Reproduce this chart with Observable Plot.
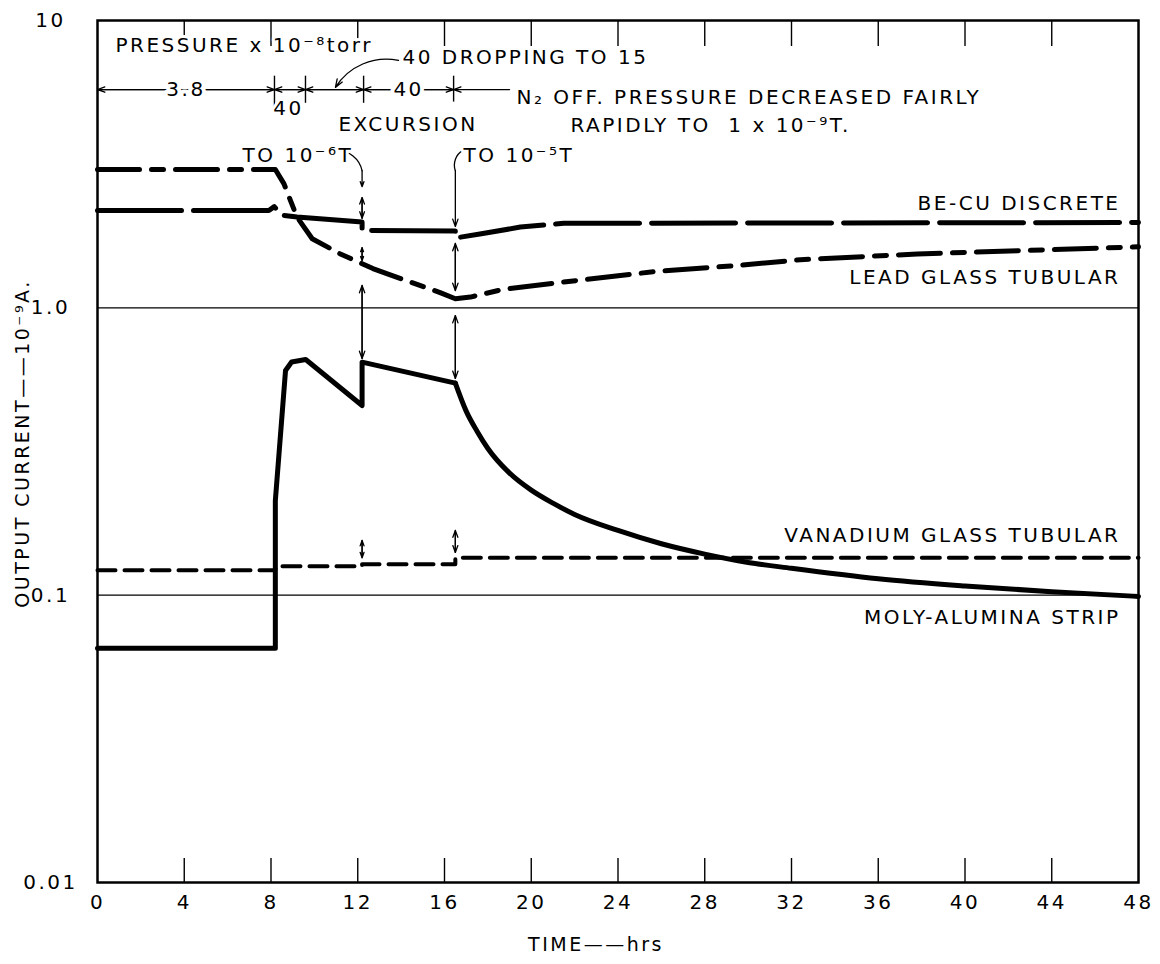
<!DOCTYPE html>
<html><head><meta charset="utf-8">
<script src="https://cdn.jsdelivr.net/npm/d3@7"></script>
<script src="https://cdn.jsdelivr.net/npm/@observablehq/plot@0.6"></script>
<style>
html,body{margin:0;padding:0;background:#fff;}
#chart svg{display:block;}
</style></head>
<body><div id="chart"></div>
<script>
// ---------- series: time (hrs) vs output current (10^-9 A) ----------
const molyTime    = [0, 8.2, 8.2, 8.67, 8.95, 9.6, 12.2, 12.2, 16.5, 17.0, 17.5, 18.0, 19.0, 20.0, 21.0, 22.0, 24.0, 26.0, 28.0, 30.0, 32.0, 36.0, 40.0, 44.0, 48];
const molyCurrent = [0.0653, 0.0653, 0.213, 0.605, 0.648, 0.661, 0.457, 0.647, 0.547, 0.437, 0.372, 0.324, 0.266, 0.232, 0.209, 0.191, 0.168, 0.151, 0.139, 0.130, 0.124, 0.114, 0.1076, 0.1028, 0.099];
const molyDecayStart = 8; // index where the smooth decay after the 2nd excursion begins

const beCuTime    = [0, 7.9, 8.15, 8.5, 9.2, 12.2, 12.2, 16.5, 16.5, 17.7, 19.5, 21.5, 48];
const beCuCurrent = [2.18, 2.18, 2.25, 2.10, 2.07, 1.99, 1.86, 1.85, 1.75, 1.81, 1.91, 1.97, 1.98];

const leadTime    = [0, 8.2, 8.6, 8.9, 9.2, 9.9, 11.2, 12.7, 13.4, 15.8, 16.5, 17.2, 18.7, 22.3, 25.8, 29.3, 32.4, 37.8, 48];
const leadCurrent = [3.03, 3.03, 2.70, 2.36, 2.07, 1.74, 1.54, 1.37, 1.31, 1.13, 1.075, 1.09, 1.16, 1.25, 1.34, 1.40, 1.47, 1.54, 1.63];

const vanTime     = [0, 8.2, 8.2, 12.2, 12.2, 16.5, 16.5, 48];
const vanCurrent  = [0.122, 0.122, 0.126, 0.126, 0.128, 0.128, 0.135, 0.135];

const seriesLabels = ["BE-CU DISCRETE", "LEAD GLASS TUBULAR", "VANADIUM GLASS TUBULAR", "MOLY-ALUMINA STRIP"];
const seriesLabelLevels = [2.31, 1.275, 0.161, 0.0836];

// ---------- axes ----------
const xTicks = [0, 4, 8, 12, 16, 20, 24, 28, 32, 36, 40, 44, 48];
const yTicks = [0.01, 0.1, 1, 10];
const yTickLabels = ["0.01", "0.1", "1.0", "10"];
const gridLevels = [1, 0.1];
const xTitle = "TIME——hrs";
const yTitle = "OUTPUT CURRENT——10⁻⁹A.";

// ---------- annotations (data units) ----------
const noteText   = ["PRESSURE x 10⁻⁸torr", "40 DROPPING TO 15", "N₂ OFF. PRESSURE DECREASED FAIRLY", "RAPIDLY TO  1 x 10⁻⁹T.", "EXCURSION", "TO 10⁻⁶T", "TO 10⁻⁵T", "40"];
const noteTime   = [0.83, 14.06, 19.32, 21.81, 11.11, 6.69, 16.88, 8.81];
const noteLevel  = [8.19, 7.43, 5.40, 4.31, 4.35, 3.39, 3.39, 4.94];
const noteAnchor = ["start", "start", "start", "start", "start", "start", "start", "middle"];

const pressureBounds = [0, 8.16, 9.59, 12.27, 16.42];
const pressureSegLabels = ["3.8", "", "", "40"];
const pressureLevel = 5.75;
const pressureTickTop = [6.4, 6.4, 6.4, 6.4];
const pressureTickBottom = [4.98, 5.15, 5.15, 5.2];
const pressureTailEnd = 19.0;

const dblTime   = [12.2, 12.2, 12.2, 12.2, 16.5, 16.5, 16.5];
const dblTop    = [2.42, 1.62, 1.196, 0.155, 1.675, 0.94, 0.168];
const dblBottom = [2.05, 1.46, 0.666, 0.135, 1.149, 0.568, 0.1408];

// single arrows / hooks
const hookX1 = [11.02, 12.2, 16.5, 16.5, 13.88];
const hookY1 = [3.53, 3.0, 3.0, 3.0, 7.26];
const hookX2 = [12.2, 12.2, 16.85, 16.5, 10.97];
const hookY2 = [3.0, 2.64, 3.53, 1.92, 5.85];
const hookBend = [40, 0, 40, 0, -35];
const hookHead = [0, 9, 0, 9, 10];

// ---------- build tables ----------
const zip = (xs, ys) => xs.map((x, i) => ({x, y: ys[i]}));
const moly = zip(molyTime, molyCurrent);
const molyHead = moly.slice(0, molyDecayStart + 1);
const molyTail = moly.slice(molyDecayStart);
const beCu = zip(beCuTime, beCuCurrent);
const lead = zip(leadTime, leadCurrent);
const van = zip(vanTime, vanCurrent);

const notes = noteText.map((t, i) => ({t, x: noteTime[i], y: noteLevel[i], a: noteAnchor[i]}));
const pressureSegs = pressureSegLabels.map((l, i) => ({x1: pressureBounds[i], x2: pressureBounds[i + 1], y: pressureLevel, l, xm: (pressureBounds[i] + pressureBounds[i + 1]) / 2}));
const pressureTicks = pressureBounds.slice(1).map((x, i) => ({x, y1: pressureTickTop[i], y2: pressureTickBottom[i]}));
const dblArrows = [];
dblTime.forEach((x, i) => {
  dblArrows.push({x1: x, y1: dblTop[i], x2: x, y2: dblBottom[i]});
  dblArrows.push({x1: x, y1: dblBottom[i], x2: x, y2: dblTop[i]});
});
pressureSegs.forEach(s => {
  dblArrows.push({x1: s.x1, y1: s.y, x2: s.x2, y2: s.y});
  dblArrows.push({x1: s.x2, y1: s.y, x2: s.x1, y2: s.y});
});
const tail = [{x1: pressureTailEnd, y1: pressureLevel, x2: pressureBounds[4], y2: pressureLevel}];
const hooks = hookX1.map((x1, i) => ({x1, y1: hookY1[i], x2: hookX2[i], y2: hookY2[i], bend: hookBend[i], head: hookHead[i]}));

const font = "DejaVu Sans";
const inner = xTicks.slice(1, -1);
const noteStyle = {x: "x", y: "y", text: "t", fontSize: 20, stroke: "#fff", strokeWidth: 6, fill: "#000", paintOrder: "stroke"};

const chart = Plot.plot({
  width: 1160,
  height: 964,
  marginLeft: 97,
  marginRight: 22,
  marginTop: 20,
  marginBottom: 82,
  x: {domain: [0, 48], axis: null},
  y: {type: "log", domain: [0.01, 10], axis: null},
  style: {fontFamily: font, fontSize: "20px", letterSpacing: "2.5px", color: "#000", background: "#fff"},
  marks: [
    Plot.ruleY(gridLevels, {stroke: "#000", strokeWidth: 1.2}),
    Plot.axisX({anchor: "bottom", ticks: inner, tickSize: -24, tickFormat: () => "", label: null, strokeWidth: 1.4}),
    Plot.axisX({anchor: "top", ticks: inner, tickSize: -25, tickFormat: () => "", label: null, strokeWidth: 1.4}),
    Plot.text(xTicks, {x: d => d, frameAnchor: "bottom", dy: 26, text: d => String(d), fontSize: 20, textAnchor: "middle"}),
    Plot.text(yTicks, {y: d => d, frameAnchor: "left", dx: -47, text: (d, i) => yTickLabels[i], textAnchor: "middle", fontSize: 20}),
    Plot.text([yTitle], {frameAnchor: "left", dx: -75, dy: -8, rotate: -90, text: d => d, fontSize: 19, textAnchor: "middle"}),
    Plot.text([xTitle], {frameAnchor: "bottom", dy: 68, dx: -22, text: d => d, fontSize: 19, textAnchor: "middle"}),
    // series
    Plot.line(van, {x: "x", y: "y", stroke: "#000", strokeWidth: 4, strokeDasharray: "18 9"}),
    Plot.line(molyHead, {x: "x", y: "y", stroke: "#000", strokeWidth: 5, strokeLinejoin: "round"}),
    Plot.line(molyTail, {x: "x", y: "y", stroke: "#000", strokeWidth: 5, strokeLinejoin: "round", curve: "monotone-x"}),
    Plot.line(beCu, {x: "x", y: "y", stroke: "#000", strokeWidth: 5, strokeDasharray: "84 12"}),
    Plot.line(lead, {x: "x", y: "y", stroke: "#000", strokeWidth: 5, strokeDasharray: "42 12 12 12"}),
    Plot.text(seriesLabels, {frameAnchor: "right", dx: -18, y: (d, i) => seriesLabelLevels[i], text: d => d, textAnchor: "end", fontSize: 20}),
    // annotations
    Plot.ruleX(pressureTicks, {x: "x", y1: "y1", y2: "y2", stroke: "#000", strokeWidth: 1.4}),
    Plot.arrow(dblArrows, {x1: "x1", y1: "y1", x2: "x2", y2: "y2", stroke: "#000", strokeWidth: 1.3, headLength: 9, headAngle: 40}),
    Plot.arrow(tail, {x1: "x1", y1: "y1", x2: "x2", y2: "y2", stroke: "#000", strokeWidth: 1.3, headLength: 9, headAngle: 40}),
    ...hooks.map(h => Plot.arrow([h], {x1: "x1", y1: "y1", x2: "x2", y2: "y2", bend: h.bend, headLength: h.head, headAngle: 40, stroke: "#000", strokeWidth: 1.3})),
    Plot.text(pressureSegs.filter(s => s.l), {x: "xm", y: "y", text: "l", stroke: "#fff", strokeWidth: 8, fill: "#000", paintOrder: "stroke", fontSize: 20, textAnchor: "middle"}),
    Plot.text(notes.filter(d => d.a === "start"), {...noteStyle, textAnchor: "start"}),
    Plot.text(notes.filter(d => d.a === "middle"), {...noteStyle, textAnchor: "middle"}),
    Plot.frame({stroke: "#000", strokeWidth: 2.5})
  ]
});
document.getElementById("chart").appendChild(chart);
</script>
</body></html>
